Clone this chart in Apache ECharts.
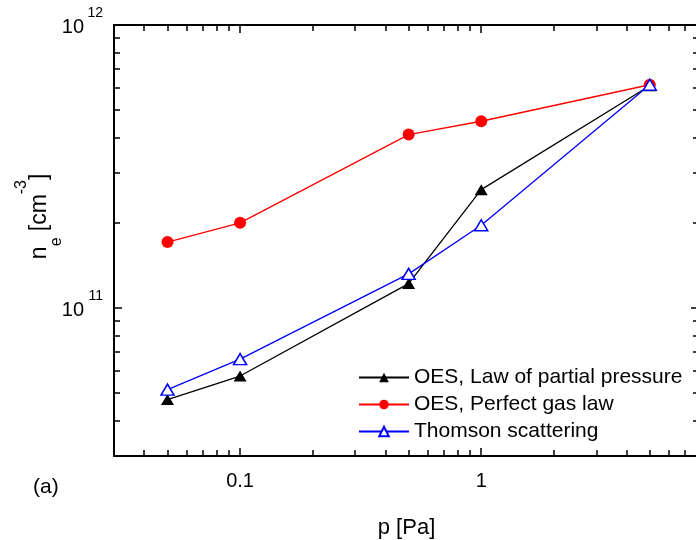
<!DOCTYPE html>
<html>
<head>
<meta charset="utf-8">
<script src="https://cdn.jsdelivr.net/npm/echarts@6/dist/echarts.min.js"></script>
<style>
  html, body { margin: 0; padding: 0; background: #fff; }
  #chart { width: 696px; height: 540px; }
</style>
</head>
<body>
<div id="chart"></div>
<script>
// Pressure (Pa) at which the electron density was measured
const pressure = [0.05, 0.1, 0.5, 1, 5];

// Electron density n_e (cm^-3) for each method
const oesPartial = [4.75e10, 5.75e10, 1.22e11, 2.62e11, 6.1e11];
const oesPerfectGas = [1.71e11, 2.0e11, 4.1e11, 4.57e11, 6.15e11];
const thomson = [5.15e10, 6.6e10, 1.32e11, 1.96e11, 6.15e11];

const seriesNames = ['OES, Law of partial pressure', 'OES, Perfect gas law', 'Thomson scattering'];

// Axis ranges and tick positions
const xRange = [0.03, 8];
const yRange = [3e10, 1e12];
const xMajorTicks = [0.1, 1];
const xMinorTicks = [0.04, 0.05, 0.06, 0.07, 0.08, 0.09, 0.2, 0.3, 0.4, 0.5, 0.6, 0.7, 0.8, 0.9, 2, 3, 4, 5, 6, 7];
const yMajorTicks = [1e11, 1e12];
const yMinorTicks = [4e10, 5e10, 6e10, 7e10, 8e10, 9e10, 2e11, 3e11, 4e11, 5e11, 6e11, 7e11, 8e11, 9e11];

const FONT = '"Liberation Sans", Arial, Helvetica, sans-serif';
const pairs = (ys) => pressure.map((p, i) => [p, ys[i]]);

const frameLine = { show: true, lineStyle: { color: '#000', width: 2 } };
const noLine = { show: false };
const tickLine = { color: '#000', width: 1.5 };

function xAxisDef(position, ticks, len, withLabels, line) {
  return {
    type: 'log', logBase: 10, min: xRange[0], max: xRange[1], position: position, offset: 0,
    axisLine: line ? frameLine : noLine,
    splitLine: { show: false },
    axisTick: { show: true, inside: true, length: len, customValues: ticks, lineStyle: tickLine },
    axisLabel: withLabels ? {
      show: true, customValues: xMajorTicks, margin: 15,
      fontFamily: FONT, fontSize: 20, color: '#000',
      formatter: (v) => String(+Number(v).toPrecision(3))
    } : { show: false },
    name: withLabels ? 'p [Pa]' : '',
    nameLocation: 'middle', nameGap: 61, nameMoveOverlap: false,
    nameTextStyle: { fontFamily: FONT, fontSize: 22, color: '#000' }
  };
}

// n_e [cm^-3]: exponent on the first line, subscript on the third, main text between
const yTitle = '{sup|-3}\n{t|n}{te| [cm}{tb|]}\n{sub|e}';

function yAxisDef(position, ticks, len, withLabels, line) {
  return {
    type: 'log', logBase: 10, min: yRange[0], max: yRange[1], position: position, offset: 0,
    axisLine: line ? frameLine : noLine,
    splitLine: { show: false },
    axisTick: { show: true, inside: true, length: len, customValues: ticks, lineStyle: tickLine },
    axisLabel: withLabels ? {
      show: true, customValues: yMajorTicks, margin: 11,
      fontFamily: FONT, color: '#000',
      formatter: (v) => '{s|' + Math.round(Math.log10(v)) + '}\n{b|10}',
      rich: {
        s: { fontFamily: FONT, fontSize: 14, lineHeight: 4, color: '#000' },
        b: { fontFamily: FONT, fontSize: 20, lineHeight: 24, padding: [0, 19, 0, 0], color: '#000' }
      }
    } : { show: false },
    name: withLabels ? yTitle : '',
    nameLocation: 'middle', nameRotate: 90, nameGap: 52, nameMoveOverlap: false,
    nameTextStyle: {
      fontFamily: FONT, color: '#000', padding: [0, 0, 0, 48],
      rich: {
        t: { fontFamily: FONT, fontSize: 23, lineHeight: 23, align: 'left', color: '#000' },
        te: { fontFamily: FONT, fontSize: 23, lineHeight: 23, align: 'left', padding: [0, 0, 0, 9], color: '#000' },
        tb: { fontFamily: FONT, fontSize: 23, lineHeight: 23, align: 'left', padding: [0, 0, 0, 14], color: '#000' },
        sup: { fontFamily: FONT, fontSize: 16, lineHeight: 12, align: 'left', padding: [0, 0, 0, 65], color: '#000' },
        sub: { fontFamily: FONT, fontSize: 16, lineHeight: 11, align: 'left', padding: [0, 0, 0, 13], color: '#000' }
      }
    }
  };
}

const chart = echarts.init(document.getElementById('chart'), null, { renderer: 'canvas' });

chart.setOption({
  animation: false,
  backgroundColor: '#fff',
  textStyle: { fontFamily: FONT },
  grid: { left: 114, top: 25, right: -3, bottom: 84, containLabel: false, outerBoundsMode: 'none' },
  xAxis: [
    xAxisDef('bottom', xMajorTicks, 8, true, true),
    xAxisDef('bottom', xMinorTicks, 6, false, false),
    xAxisDef('top', xMajorTicks, 8, false, true),
    xAxisDef('top', xMinorTicks, 6, false, false)
  ],
  yAxis: [
    yAxisDef('left', yMajorTicks, 8, true, true),
    yAxisDef('left', yMinorTicks, 6, false, false),
    yAxisDef('right', yMajorTicks, 8, false, true),
    yAxisDef('right', yMinorTicks, 6, false, false)
  ],
  legend: {
    orient: 'vertical', left: 358, top: 367, padding: 0,
    itemWidth: 50, itemHeight: 12, itemGap: 6,
    textStyle: { fontFamily: FONT, fontSize: 21, color: '#000' },
    data: seriesNames
  },
  graphic: [{
    type: 'text', left: 33, top: 477,
    style: { text: '(a)', fontFamily: FONT, fontSize: 21, fill: '#000' }
  }],
  series: [
    {
      name: seriesNames[0], type: 'line', data: pairs(oesPartial),
      symbol: 'triangle', symbolSize: [13, 11],
      lineStyle: { color: '#000', width: 1.3 },
      itemStyle: { color: '#000' }, z: 3
    },
    {
      name: seriesNames[1], type: 'line', data: pairs(oesPerfectGas),
      symbol: 'circle', symbolSize: 12,
      lineStyle: { color: '#ff0000', width: 1.3 },
      itemStyle: { color: '#ff0000' }, z: 4
    },
    {
      name: seriesNames[2], type: 'line', data: pairs(thomson),
      symbol: 'triangle', symbolSize: [13, 11],
      lineStyle: { color: '#0000ff', width: 1.3 },
      itemStyle: { color: '#fff', borderColor: '#0000ff', borderWidth: 1.5 }, z: 5
    }
  ]
});
</script>
</body>
</html>
